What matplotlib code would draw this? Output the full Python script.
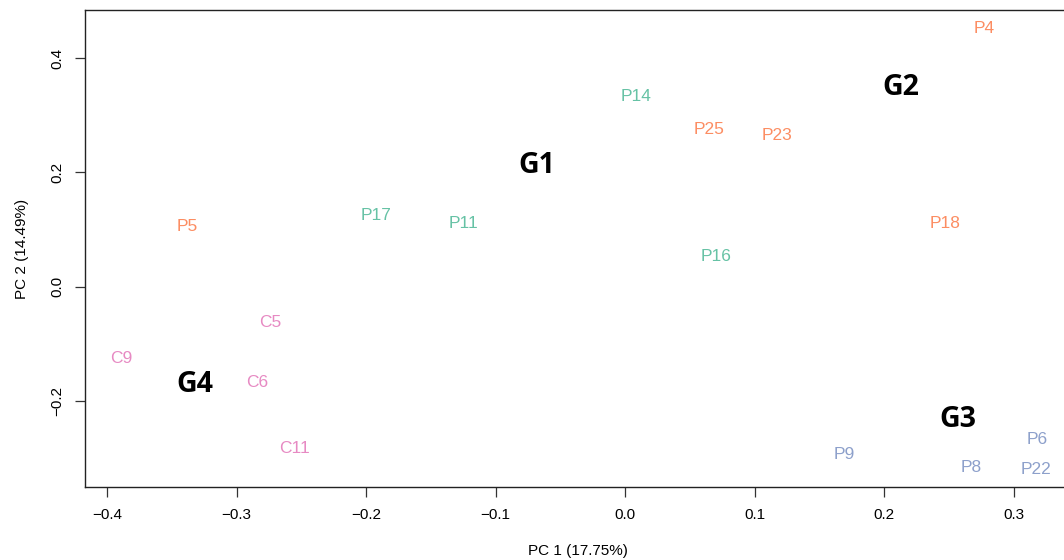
import matplotlib
matplotlib.use("Agg")
import matplotlib.pyplot as plt

# Sample labels and PCA coordinates
labels = ["P4", "P14", "P25", "P23", "P5", "P17", "P11", "P18", "P16",
          "C5", "C9", "C6", "C11", "P9", "P6", "P8", "P22"]
pc1 = [0.277, 0.0085, 0.065, 0.117, -0.338, -0.192, -0.125, 0.247, 0.070,
       -0.274, -0.389, -0.284, -0.255, 0.169, 0.318, 0.267, 0.317]
pc2 = [0.451, 0.333, 0.275, 0.265, 0.105, 0.125, 0.111, 0.111, 0.053,
       -0.063, -0.126, -0.168, -0.282, -0.293, -0.267, -0.316, -0.319]
groups = ["G2", "G1", "G2", "G2", "G2", "G1", "G1", "G2", "G1",
          "G4", "G4", "G4", "G4", "G3", "G3", "G3", "G3"]

group_names = ["G1", "G2", "G3", "G4"]
group_x = [-0.068, 0.213, 0.257, -0.332]
group_y = [0.212, 0.349, -0.232, -0.170]
group_colors = {"G1": "#66C2A5", "G2": "#FC8D62", "G3": "#8DA0CB", "G4": "#E78AC3"}

x_ticks = [-0.4, -0.3, -0.2, -0.1, 0.0, 0.1, 0.2, 0.3]
y_ticks = [-0.2, 0.0, 0.2, 0.4]

fig = plt.figure(figsize=(10.64, 5.6), dpi=100)
ax = fig.add_axes([85 / 1064, 1 - 487 / 560, (1071 - 85) / 1064, (487 - 10) / 560])

for lab, x, y, g in zip(labels, pc1, pc2, groups):
    ax.text(x, y, lab, color=group_colors[g], fontsize=12.5, family="Liberation Sans",
            ha="center", va="center")

for g, x, y in zip(group_names, group_x, group_y):
    ax.text(x, y, g, color="black", fontsize=20.5, family="Open Sans", fontweight="bold",
            ha="center", va="center")

ax.set_xlim(-0.417, 0.344)
ax.set_ylim(-0.350, 0.484)
ax.set_xticks(x_ticks)
ax.set_xticklabels([f"{v:.1f}".replace("-", "\u2212") for v in x_ticks],
                   family="Liberation Sans", fontsize=11)
ax.set_yticks(y_ticks)
ax.set_yticklabels([f"{v:.1f}".replace("-", "\u2212") for v in y_ticks],
                   family="Liberation Sans", fontsize=11, rotation=90, va="center")
ax.tick_params(length=7, width=0.9, pad=8, color="#333333")
for s in ax.spines.values():
    s.set_linewidth(1.0)
    s.set_color("#222222")
ax.set_xlabel("PC 1 (17.75%)", family="Liberation Sans", fontsize=11, labelpad=16)
ax.set_ylabel("PC 2 (14.49%)", family="Liberation Sans", fontsize=11, labelpad=15)

fig.savefig("out.png", dpi=100)
